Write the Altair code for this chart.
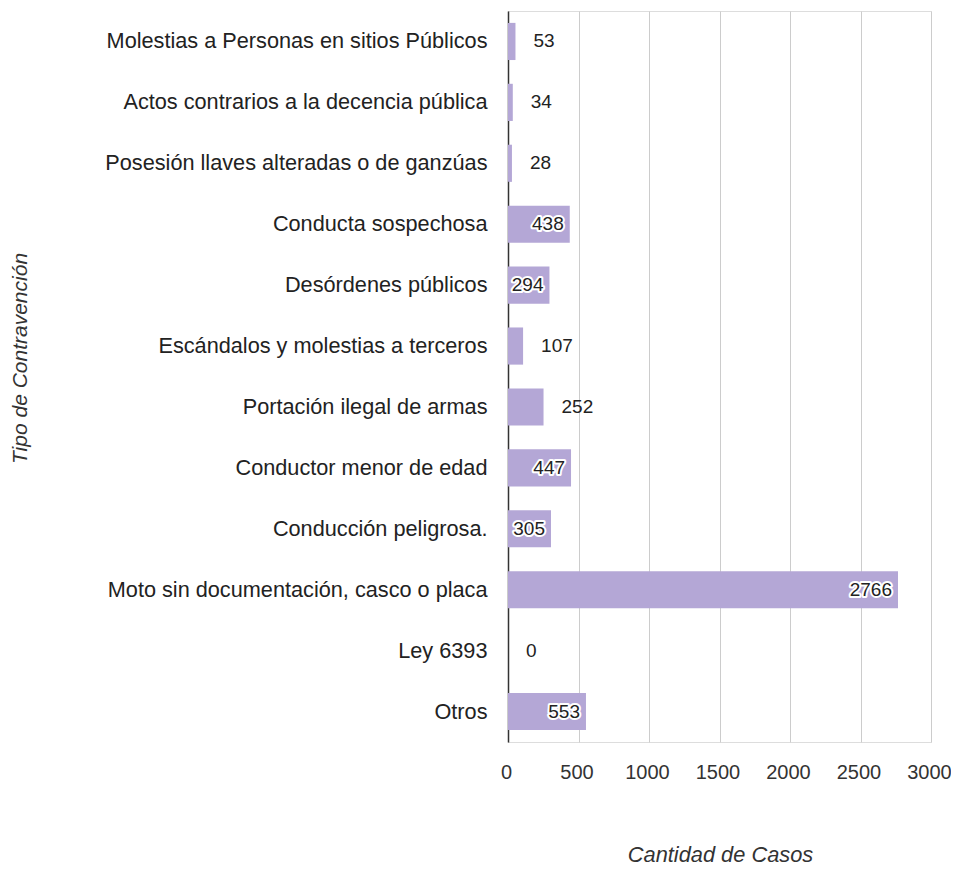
import altair as alt
import pandas as pd

categories = [
    "Molestias a Personas en sitios Públicos",
    "Actos contrarios a la decencia pública",
    "Posesión llaves alteradas o de ganzúas",
    "Conducta sospechosa",
    "Desórdenes públicos",
    "Escándalos y molestias a terceros",
    "Portación ilegal de armas",
    "Conductor menor de edad",
    "Conducción peligrosa.",
    "Moto sin documentación, casco o placa",
    "Ley 6393",
    "Otros",
]
values = [53, 34, 28, 438, 294, 107, 252, 447, 305, 2766, 0, 553]
x_ticks = [0, 500, 1000, 1500, 2000, 2500, 3000]

df = pd.DataFrame({"cat": categories, "val": values})
df["inside"] = df["val"] >= 290

FONT = "Arial"
BAR = "#b4a7d6"

y_enc = alt.Y(
    "cat:N",
    sort=categories,
    scale=alt.Scale(paddingInner=0.39, paddingOuter=0.195),
    axis=alt.Axis(
        title="Tipo de Contravención",
        titleFont=FONT, titleFontSize=21, titleFontStyle="italic",
        titleFontWeight="normal", titleColor="#333333",
        titleAngle=-90, titleX=-488, titleY=347, titleAlign="center",
        titleBaseline="middle",
        labelFont=FONT, labelFontSize=21.7, labelColor="#222222",
        labelPadding=21, labelLimit=500,
        ticks=False, domain=True, domainColor="#333333", domainWidth=1.5,
        grid=False,
    ),
)
x_enc = alt.X(
    "val:Q",
    scale=alt.Scale(domain=[0, 3000], nice=False),
    axis=alt.Axis(
        title="Cantidad de Casos",
        values=x_ticks, format="d", labelOverlap=False, labelFlush=False,
        labelOffset=-2,
        titleFont=FONT, titleFontSize=21.8, titleFontStyle="italic",
        titleFontWeight="normal", titleColor="#333333",
        titleX=212, titleY=119, titleBaseline="alphabetic",
        labelFont=FONT, labelFontSize=20, labelColor="#333333",
        labelPadding=20, ticks=False, domain=False,
        grid=True, gridColor="#cccccc", gridWidth=1,
    ),
)

base = alt.Chart(df)
bars = base.mark_bar(color=BAR).encode(x=x_enc, y=y_enc)

inside_halo = base.transform_filter("datum.inside").mark_text(
    align="right", baseline="middle", dx=-6, font=FONT, fontSize=19,
    stroke="white", strokeWidth=4, strokeJoin="round", color="white",
).encode(x="val:Q", y=alt.Y("cat:N", sort=categories), text="val:Q")

inside_text = base.transform_filter("datum.inside").mark_text(
    align="right", baseline="middle", dx=-6, font=FONT, fontSize=19,
    color="#222222",
).encode(x="val:Q", y=alt.Y("cat:N", sort=categories), text="val:Q")

outside_text = base.transform_filter("!datum.inside").mark_text(
    align="left", baseline="middle", dx=18, font=FONT, fontSize=19,
    color="#222222",
).encode(x="val:Q", y=alt.Y("cat:N", sort=categories), text="val:Q")

chart = alt.layer(bars, inside_halo, inside_text, outside_text).properties(
    width=423,
    height=731,
    padding={"left": 500, "top": 3, "right": 20, "bottom": 123},
    autosize="none",
).configure_view(stroke=None).configure(background="white")

chart.save("out.html", embed_options={"renderer": "svg", "actions": False})
